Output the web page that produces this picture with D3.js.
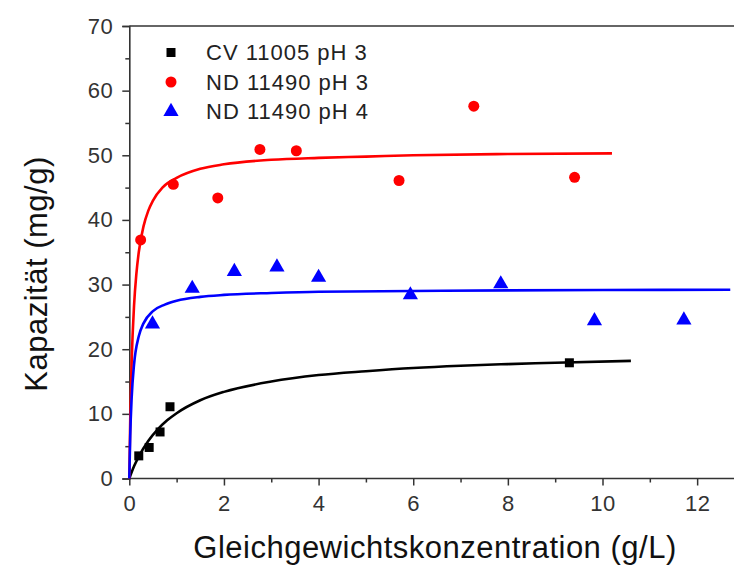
<!DOCTYPE html>
<html>
<head>
<meta charset="utf-8">
<script src="https://cdn.jsdelivr.net/npm/d3@7"></script>
<style>
  html, body { margin: 0; padding: 0; background: #fff; }
  .svg-container { width: 734px; height: 565px; }
  text { font-family: "Liberation Sans", Arial, sans-serif; }
</style>
</head>
<body>
<div class="svg-container"></div>
<script>
// measured points (conc g/L, capacity mg/g)
var cvPh3 = [[0.2, 3.5], [0.42, 4.8], [0.65, 7.2], [0.86, 11.1], [9.3, 17.9]];
var ndPh3 = [[0.24, 36.9], [0.93, 45.5], [1.87, 43.4], [2.76, 50.9], [3.53, 50.7],
             [5.7, 46.1], [7.28, 57.6], [9.41, 46.6]];
var ndPh4 = [[0.49, 23.9], [1.33, 29.4], [2.22, 32.0], [3.12, 32.7], [4.0, 31.1],
             [5.94, 28.4], [7.85, 30.1], [9.83, 24.4], [11.72, 24.5]];

// fitted curves
var cvFit = [[0, 0], [0.1, 1.9], [0.2, 3.4], [0.4, 5.8], [0.6, 7.6], [0.8, 9.0], [1, 10.1],
             [1.5, 12.1], [2, 13.4], [3, 15.0], [4, 16.0], [5, 16.6], [6, 17.1], [7, 17.45],
             [8, 17.7], [9, 17.9], [10.6, 18.2]];
var ndPh3Fit = [[0, 0], [0.02, 9.2], [0.05, 18.1], [0.1, 26.7], [0.15, 31.7], [0.2, 35.0],
                [0.3, 39.0], [0.4, 41.4], [0.5, 43.0], [0.7, 45.0], [1, 46.5], [1.5, 47.9],
                [2, 48.6], [3, 49.3], [4, 49.6], [5, 49.8], [6, 50.0], [8, 50.2], [10.2, 50.3]];
var ndPh4Fit = [[0, 0], [0.02, 6.7], [0.05, 12.5], [0.1, 17.6], [0.2, 22.0], [0.3, 24.0],
                [0.5, 25.9], [0.75, 26.9], [1, 27.5], [1.5, 28.1], [2, 28.4], [3, 28.7],
                [4, 28.9], [6, 29.0], [8, 29.1], [10, 29.15], [12.7, 29.2]];

var xTicks = [0, 2, 4, 6, 8, 10, 12];
var xMinor = [1, 3, 5, 7, 9, 11];
var yTicks = [0, 10, 20, 30, 40, 50, 60, 70];
var yMinor = [5, 15, 25, 35, 45, 55, 65];

var legendNames = ["CV 11005 pH 3", "ND 11490 pH 3", "ND 11490 pH 4"];
var colors = ["#000000", "#ff0000", "#0000ff"];

var width = 734, height = 565;
var plotLeft = 129.3, plotRight = 735, plotTop = 26, plotBottom = 478.5;

var svg = d3.select('.svg-container').append('svg')
  .attr('width', width)
  .attr('height', height);

var x = d3.scaleLinear().domain([0, 12.8]).range([plotLeft, plotRight]);
var y = d3.scaleLinear().domain([0, 70]).range([plotBottom, plotTop]);

var axisColor = "#333";

// top frame line
svg.append("line")
  .attr("x1", plotLeft).attr("x2", width)
  .attr("y1", plotTop).attr("y2", plotTop)
  .attr("stroke", axisColor).attr("stroke-width", 1.6);

function styleAxis(g) {
  g.selectAll(".domain").filter(function(d, i) { return i > 0; }).remove();
  g.selectAll(".domain").attr("stroke", axisColor).attr("stroke-width", 1.6);
  g.selectAll("line").attr("stroke", axisColor).attr("stroke-width", 1.5);
  g.selectAll("text")
    .attr("font-size", 22)
    .attr("letter-spacing", 0.5)
    .attr("fill", "#333")
    .attr("font-family", "'Liberation Sans', Arial, sans-serif");
}

// x axis
var gx = svg.append("g").attr("transform", "translate(0," + plotBottom + ")");
gx.call(d3.axisBottom(x).tickValues(xTicks).tickSize(7).tickPadding(10).tickFormat(d3.format("d")));
gx.append("g").call(d3.axisBottom(x).tickValues(xMinor).tickSize(4).tickFormat(""));
styleAxis(gx);
gx.select(".domain").attr("d", "M" + plotLeft + ",0H" + width);

// y axis
var gy = svg.append("g").attr("transform", "translate(" + plotLeft + ",0)");
gy.call(d3.axisLeft(y).tickValues(yTicks).tickSize(7).tickPadding(9));
gy.append("g").call(d3.axisLeft(y).tickValues(yMinor).tickSize(4).tickFormat(""));
styleAxis(gy);

// axis titles
svg.append("text")
  .attr("x", 435).attr("y", 558)
  .attr("text-anchor", "middle")
  .attr("font-size", 31)
  .attr("letter-spacing", 0.5)
  .attr("fill", "#111")
  .text("Gleichgewichtskonzentration (g/L)");

svg.append("text")
  .attr("transform", "translate(47,274) rotate(-90)")
  .attr("text-anchor", "middle")
  .attr("font-size", 31)
  .attr("letter-spacing", 0.5)
  .attr("fill", "#111")
  .text("Kapazität (mg/g)");

// fit lines
var line = d3.line()
  .x(function(d) { return x(d[0]); })
  .y(function(d) { return y(d[1]); })
  .curve(d3.curveMonotoneX);

var fits = [cvFit, ndPh3Fit, ndPh4Fit];
svg.selectAll(".fit")
  .data(fits)
  .enter().append("path")
  .attr("class", "fit")
  .attr("d", line)
  .attr("fill", "none")
  .attr("stroke", function(d, i) { return colors[i]; })
  .attr("stroke-width", 2.6);

// markers
var symbols = [d3.symbolSquare, d3.symbolCircle, d3.symbolTriangle];
var sizes = [81, 95, 100];
var sets = [cvPh3, ndPh3, ndPh4];

sets.forEach(function(set, k) {
  svg.append("g").selectAll("path")
    .data(set)
    .enter().append("path")
    .attr("transform", function(d) { return "translate(" + x(d[0]) + "," + y(d[1]) + ")"; })
    .attr("d", d3.symbol().type(symbols[k]).size(sizes[k]))
    .attr("fill", colors[k]);
});

// legend
var legend = svg.append("g").selectAll("g")
  .data(legendNames)
  .enter().append("g")
  .attr("transform", function(d, i) { return "translate(171," + (52.5 + i * 29.5) + ")"; });

legend.append("path")
  .attr("d", function(d, i) { return d3.symbol().type(symbols[i]).size(sizes[i])(); })
  .attr("fill", function(d, i) { return colors[i]; });

legend.append("text")
  .attr("x", 35).attr("y", 7.5)
  .attr("font-size", 22)
  .attr("letter-spacing", 1)
  .attr("fill", "#222")
  .text(function(d) { return d; });
</script>
</body>
</html>
